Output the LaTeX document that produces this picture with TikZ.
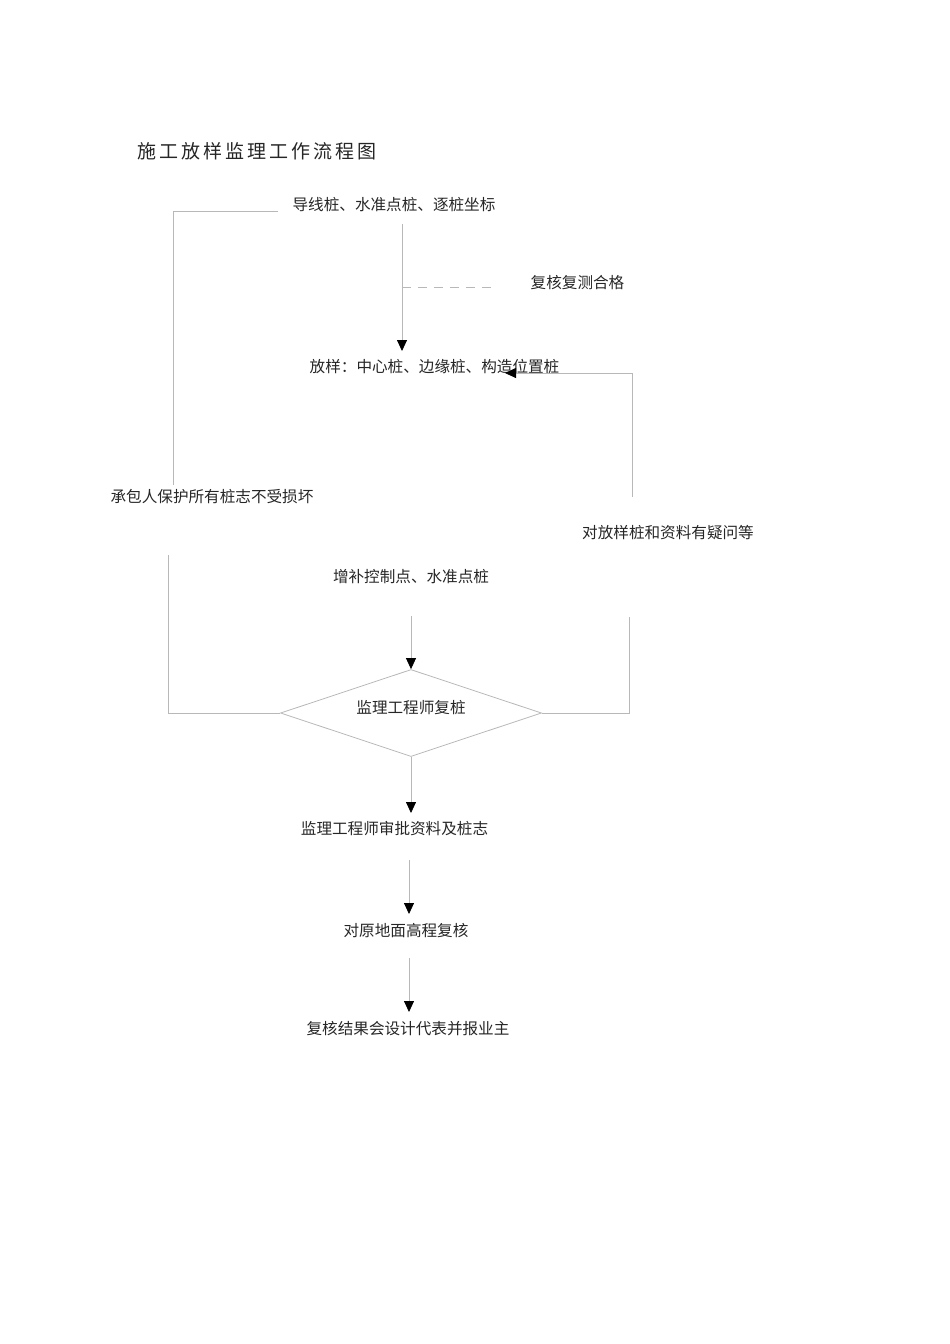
\documentclass[tikz,border=0pt]{standalone}
\usepackage{fontspec}
\newfontfamily\cjk{Noto Sans CJK SC}
\usetikzlibrary{arrows.meta,shapes.geometric}
\begin{document}
\begin{tikzpicture}[x=1pt,y=-1pt,
  line/.style={draw=black!28, line width=0.8pt},
  arr/.style={line, -{Triangle[width=10pt,length=11pt,color=black]}},
  lbl/.style={font=\cjk\fontsize{15.6}{18}\selectfont, inner sep=0pt, text=black!85},
  ttl/.style={font=\cjk\fontsize{19}{22}\selectfont, inner sep=0pt, text=black!85, anchor=west}
]
\useasboundingbox (0,0) rectangle (950,1344);

% title
\node[ttl] (title) at (137,151) {施\hspace{3pt}工\hspace{3pt}放\hspace{3pt}样\hspace{3pt}监\hspace{3pt}理\hspace{3pt}工\hspace{3pt}作\hspace{3pt}流\hspace{3pt}程\hspace{3pt}图};

% nodes
\node[lbl] (n1) at (394,205) {导线桩、水准点桩、逐桩坐标};
\node[lbl] (ok) at (577.5,283) {复核复测合格};
\node[lbl] (n2) at (434.5,367) {放样：中心桩、边缘桩、构造位置桩};
\node[lbl] (prot) at (212,497) {承包人保护所有桩志不受损坏};
\node[lbl] (doubt) at (668,533) {对放样桩和资料有疑问等};
\node[lbl] (add) at (411,577) {增补控制点、水准点桩};
\node[diamond, line, minimum width=261pt, minimum height=87pt, inner sep=0pt] (d) at (411,713) {};
\node[lbl] (dtext) at (411,708) {监理工程师复桩};
\node[lbl] (n4) at (394.5,829) {监理工程师审批资料及桩志};
\node[lbl] (n5) at (406,931) {对原地面高程复核};
\node[lbl] (n6) at (408,1029) {复核结果会设计代表并报业主};

% connectors
\coordinate (a1) at (278,211);
\coordinate (a2) at (173,485);
\draw[line] (a1) -| (a2);

\coordinate (b1) at (402,224);
\coordinate (b2) at (402,351);
\draw[arr] (b1) -- (b2);
\coordinate (c1) at (402,287);
\coordinate (c2) at (498,287);
\draw[line, dash pattern=on 9pt off 7pt] (c1) -- (c2);

\coordinate (r1) at (632,497);
\coordinate (r2) at (505,373);
\draw[arr] (r1) |- (r2);

\coordinate (l1) at (168,555);
\draw[line] (l1) |- (d.west);

\coordinate (m1) at (629,617);
\draw[line] (d.east) -| (m1);

\coordinate (e1) at (411,616);
\draw[arr] (e1) -- (d.north);

\coordinate (f1) at (411,813);
\draw[arr] (d.south) -- (f1);

\coordinate (g1) at (409,860);
\coordinate (g2) at (409,914);
\draw[arr] (g1) -- (g2);

\coordinate (h1) at (409,958);
\coordinate (h2) at (409,1012);
\draw[arr] (h1) -- (h2);
\end{tikzpicture}
\end{document}
